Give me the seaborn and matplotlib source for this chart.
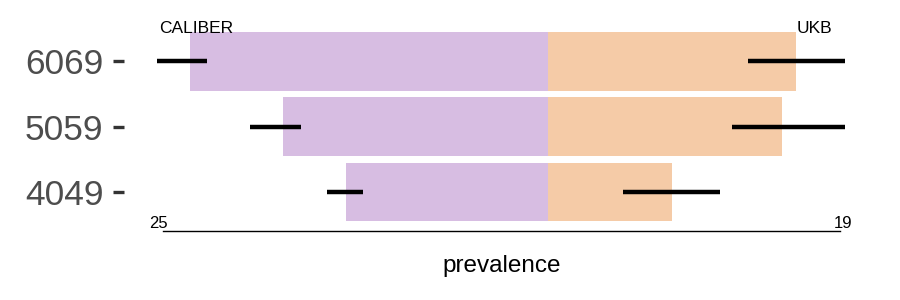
import numpy as np
import pandas as pd
import matplotlib
matplotlib.use('Agg')
import matplotlib.pyplot as plt
import seaborn as sns

# 数据
groups = ['6069', '5059', '4049']
caliber = [23.2, 17.2, 13.1]          # 左侧 CALIBER
caliber_lo = [22.1, 16.0, 12.0]
caliber_hi = [25.4, 19.3, 14.3]
ukb = [16.1, 15.2, 8.1]               # 右侧 UKB
ukb_lo = [13.0, 12.0, 4.9]
ukb_hi = [19.3, 19.3, 11.2]
x_left, x_right = 25, 19              # 轴两端标签

purple = '#D7BDE2'
orange = '#F5CBA7'

sns.set_style('white')
plt.rcParams['font.family'] = ['Liberation Sans', 'DejaVu Sans']
plt.rcParams['text.color'] = 'black'
plt.rcParams['axes.labelcolor'] = 'black'

df = pd.DataFrame({'group': groups,
                   'caliber': -np.array(caliber),
                   'ukb': ukb})

fig = plt.figure(figsize=(9, 3), dpi=100)
ax = fig.add_axes([0.138, 0.23, 0.84, 0.6955])

sns.barplot(data=df, x='caliber', y='group', color=purple, width=0.9,
            saturation=1, orient='h', linewidth=0, ax=ax)
sns.barplot(data=df, x='ukb', y='group', color=orange, width=0.9,
            saturation=1, orient='h', linewidth=0, ax=ax)

# 置信区间线
ypos = np.arange(len(groups))
ax.hlines(ypos, -np.array(caliber_lo), -np.array(caliber_hi), color='black',
          lw=3.2, capstyle='butt')
ax.hlines(ypos, ukb_lo, ukb_hi, color='black', lw=3.2, capstyle='butt')

ax.set_xlim(-27.5, 21.6)
ax.set_ylim(2.6, -0.6)

# 坐标轴样式
sns.despine(ax=ax, left=True, top=True, right=True)
ax.spines['bottom'].set_bounds(-x_left, x_right)
ax.spines['bottom'].set_color('black')
ax.spines['bottom'].set_linewidth(1)
ax.set_xticks([])
ax.tick_params(axis='y', length=8, width=2.4, color='#333333', pad=7,
               labelsize=25.5, labelcolor='#4D4D4D', left=True)
ax.set_ylabel('')
ax.set_xlabel('prevalence', fontsize=17.5, labelpad=17)

ax.text(-x_left - 0.3, 2.6, str(x_left), ha='center', va='bottom', fontsize=12)
ax.text(x_right + 0.2, 2.6, str(x_right), ha='center', va='bottom', fontsize=12)
ax.text(-25.2, -0.5, 'CALIBER', ha='left', va='center', fontsize=12.5)
ax.text(18.5, -0.5, 'UKB', ha='right', va='center', fontsize=12.5)

plt.savefig('out.png', dpi=100)
